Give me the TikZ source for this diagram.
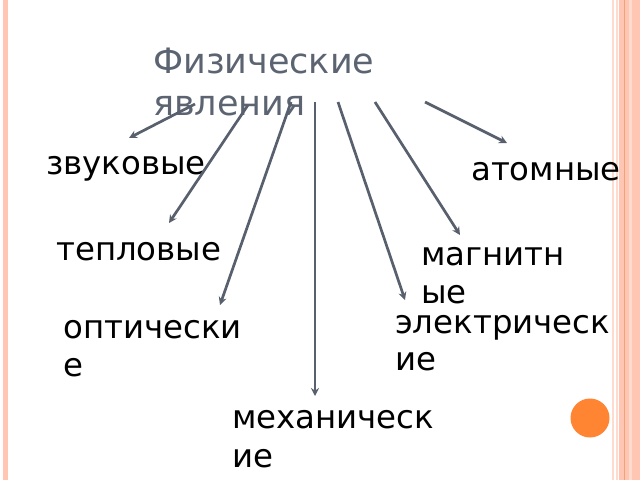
\documentclass[tikz,border=0pt]{standalone}
\usepackage{fontspec}
\setmainfont{DejaVu Sans}
\usetikzlibrary{arrows.meta}
\definecolor{arrowgray}{HTML}{58606D}
\definecolor{titlegray}{HTML}{5C6472}
\definecolor{borderpink}{HTML}{FFC7B3}
\definecolor{borderlight}{HTML}{FDDCCF}
\definecolor{borderorange}{HTML}{F2A277}
\definecolor{dotorange}{HTML}{FF8533}
\tikzset{
  lbl/.style={anchor=base west, inner sep=0pt, font=\fontsize{32.4}{39}\selectfont, text=black},
  ttl/.style={anchor=base west, inner sep=0pt, font=\fontsize{35}{42}\selectfont, text=titlegray},
  arr/.style={draw=arrowgray, line width=2.7pt, -{Stealth[length=8pt,width=8pt]}},
}
\begin{document}
\begin{tikzpicture}[x=1pt,y=-1pt]
\useasboundingbox (0,0) rectangle (640,480);
\fill[white] (0,0) rectangle (640,480);
% borders
\fill[borderpink] (2.7,0) rectangle (8,480);
\fill[borderlight] (612,0) rectangle (614.3,480);
\fill[borderlight] (616,0) rectangle (618,480);
\fill[borderpink] (619,0) rectangle (640,480);
\fill[borderorange] (624,0) rectangle (625.2,480);
\fill[borderlight] (629,0) rectangle (631.7,480);
% orange dot
\fill[dotorange] (590,418) circle (19.5);
% title
\node[ttl] (t1) at (153,73) {Физические};
\node[ttl] (t2) at (153,115) {явления};
% labels
\node[lbl] (zv) at (46,174) {звуковые};
\node[lbl] (tep) at (56,260) {тепловые};
\node[lbl] (opt1) at (63,338) {оптически};
\node[lbl] (opt2) at (63,376) {е};
\node[lbl] (mex1) at (232,428) {механическ};
\node[lbl] (mex2) at (232,467) {ие};
\node[lbl] (el1) at (395,333) {электрическ};
\node[lbl] (el2) at (395,370) {ие};
\node[lbl] (mag1) at (421,265) {магнитн};
\node[lbl] (mag2) at (421,303) {ые};
\node[lbl] (at) at (471,180) {атомные};
% arrow coordinates
\coordinate (s1) at (195,104); \coordinate (e1) at (129,138);
\coordinate (s2) at (248,105); \coordinate (e2) at (169,223);
\coordinate (s3) at (291,102); \coordinate (e3) at (220,305);
\coordinate (s4) at (315,102); \coordinate (e4) at (315,396);
\coordinate (s5) at (338,102); \coordinate (e5) at (405,300);
\coordinate (s6) at (375,102); \coordinate (e6) at (460,235);
\coordinate (s7) at (425,102); \coordinate (e7) at (507,143);
\draw[arr] (s1) -- (e1);
\draw[arr] (s2) -- (e2);
\draw[arr] (s3) -- (e3);
\draw[arr] (s4) -- (e4);
\draw[arr] (s5) -- (e5);
\draw[arr] (s6) -- (e6);
\draw[arr] (s7) -- (e7);
\end{tikzpicture}
\end{document}
